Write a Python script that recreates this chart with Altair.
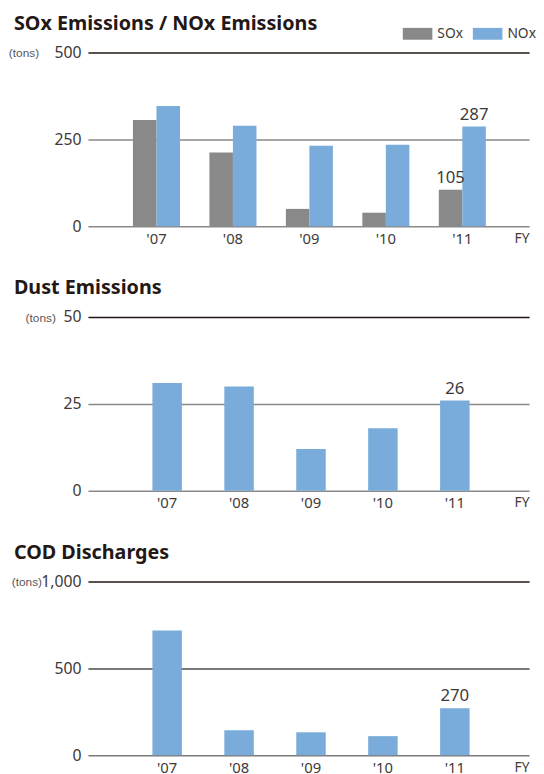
import altair as alt
import pandas as pd

years = ["'07", "'08", "'09", "'10", "'11"]
gases = ["SOx", "NOx"]
sox = [306, 212, 50, 39, 105]
nox = [346, 289, 232, 235, 287]
dust = [31, 30, 12, 18, 26]
cod = [718, 144, 132, 110, 270]

titles = ["SOx Emissions / NOx Emissions", "Dust Emissions", "COD Discharges"]
unit = "(tons)"
fy = "FY"

df1 = pd.DataFrame({
    "year": years * 2,
    "gas": ["SOx"] * 5 + ["NOx"] * 5,
    "value": sox + nox,
})
df2 = pd.DataFrame({"year": years, "value": dust})
df3 = pd.DataFrame({"year": years, "value": cod})

W = 447
H = 176
FONT = "Noto Sans"
NARROW = "Liberation Sans Narrow, Liberation Sans, sans-serif"
TXT = "#3e3a39"
GRAY = "#898989"
BLUE = "#79acda"


def xaxis():
    return alt.Axis(
        title=fy, titleAngle=0, titleX=W, titleY=5, titleAlign="right",
        titleBaseline="top", titleFont=FONT, titleFontSize=14,
        titleFontWeight="normal", titleColor=TXT,
        labelAngle=0, labelFont=FONT, labelFontSize=15, labelColor=TXT,
        labelPadding=5, ticks=False, domain=False, grid=False,
    )


def yaxis(top, vals, mid_col, base_col, tx, fmt):
    return alt.Axis(
        values=vals, format=fmt, grid=True, domain=False, ticks=False,
        gridWidth=1.5,
        gridColor={"condition": [
            {"test": f"datum.value == {top}", "value": "#231815"},
            {"test": "datum.value == 0", "value": base_col},
        ], "value": mid_col},
        labelFont=FONT, labelFontSize=16, labelColor=TXT, labelPadding=7,
        title=unit, titleAngle=0, titleX=tx, titleY=0, titleAlign="right",
        titleBaseline="middle", titleFont=NARROW,
        titleFontSize=12, titleFontWeight="normal", titleColor="#595757",
        minExtent=75, maxExtent=75,
    )


def title(t):
    return alt.TitleParams(
        t, anchor="start", frame="group", dx=-75, fontSize=20, font=FONT,
        fontWeight="bold", color="#231815", offset=-5, baseline="alphabetic",
    )


# ---- Chart 1 ----
x1 = alt.X("year:N", sort=years,
           scale=alt.Scale(paddingInner=0.3846, paddingOuter=0.577, align=0.51),
           axis=xaxis())
y1 = alt.Y("value:Q", scale=alt.Scale(domain=[0, 500], nice=False),
           axis=yaxis(500, [0, 250, 500], "#8a8a8a", "#8a8a8a", -50, "d"))
xo1 = alt.XOffset("gas:N", sort=gases,
                  scale=alt.Scale(paddingInner=0, paddingOuter=0))

bars1 = alt.Chart(df1).mark_bar().encode(
    x=x1, xOffset=xo1, y=y1,
    color=alt.Color("gas:N", sort=gases,
                    scale=alt.Scale(domain=gases, range=[GRAY, BLUE]),
                    legend=alt.Legend(
                        orient="none", direction="horizontal", legendX=319,
                        legendY=-34, title=None, padding=0,
                        symbolType="M-1,-0.4H1V0.4H-1Z", symbolSize=900,
                        symbolStrokeWidth=0, symbolOpacity=1,
                        labelFont=FONT, labelFontSize=14, labelColor=TXT,
                        labelOffset=5, columnPadding=9)),
)
text1 = alt.Chart(df1).transform_filter("datum.year == \"'11\"").mark_text(
    baseline="alphabetic", dy=-7, fontSize=17, font=FONT, color=TXT
).encode(x=x1, xOffset=xo1, y=y1, text=alt.Text("value:Q"))
c1 = alt.layer(bars1, text1).properties(width=W, height=H, title=title(titles[0]))


# ---- Chart 2 & 3 ----
def single(df, top, vals, mid_col, base_col, tx, fmt, t):
    x = alt.X("year:N", sort=years,
              scale=alt.Scale(paddingInner=0.59, paddingOuter=0.862, align=0.52),
              axis=xaxis())
    y = alt.Y("value:Q", scale=alt.Scale(domain=[0, top], nice=False),
              axis=yaxis(top, vals, mid_col, base_col, tx, fmt))
    b = alt.Chart(df).mark_bar(color=BLUE).encode(x=x, y=y)
    tx_ = alt.Chart(df).transform_filter("datum.year == \"'11\"").mark_text(
        baseline="alphabetic", dy=-7, fontSize=17, font=FONT, color=TXT
    ).encode(x=x, y=y, text=alt.Text("value:Q"))
    return alt.layer(b, tx_).properties(width=W, height=H, title=title(t))


c2 = single(df2, 50, [0, 25, 50], "#8a8a8a", "#8a8a8a", -33, "d", titles[1])
c3 = single(df3, 1000, [0, 500, 1000], "#4d4d4d", "#7a7a7a", -47, ",d", titles[2])

chart = alt.vconcat(c1, c2, c3, spacing=92, bounds="flush").properties(
    padding={"left": 0, "top": 1, "right": 0, "bottom": 6}
).configure_view(stroke=None)

chart.save("out.html", embed_options={"renderer": "svg", "actions": False})
